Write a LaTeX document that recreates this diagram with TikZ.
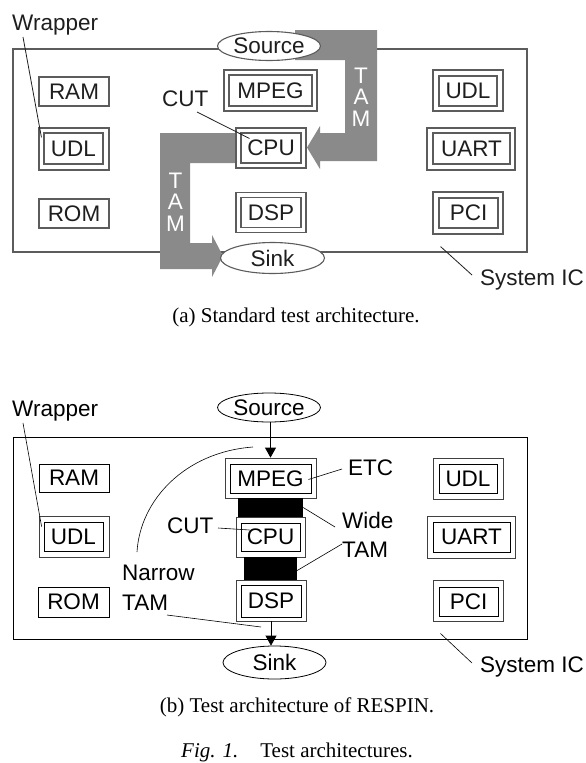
\documentclass[tikz,border=0pt]{standalone}
\usepackage{fontspec}
\setmainfont{Liberation Sans}
\newfontfamily\capfont{Liberation Serif}
\usetikzlibrary{shapes.geometric,arrows.meta}

\definecolor{inkA}{HTML}{1E1E1E}
\definecolor{lineA}{HTML}{5C5C5C}
\definecolor{tamgrey}{HTML}{8A8A8A}
\definecolor{wrapB}{HTML}{404040}

\tikzset{
  sz/.style 2 args={minimum width=#1, minimum height=#2},
  txt/.style={font=\fontsize{22.5}{27}\selectfont},
  lbl/.style={txt, inner sep=0pt, anchor=base west},
  % standard architecture (soft grey print)
  chipA/.style={draw=lineA, line width=1.2pt, inner sep=0pt},
  outerA/.style={draw=lineA, line width=1.1pt, inner sep=0pt, fill=white},
  innerA/.style={draw=lineA, line width=1.1pt, inner sep=0pt, txt, text=inkA},
  ovalA/.style={ellipse, draw=lineA, line width=1.1pt, fill=white, inner sep=0pt, txt, text=inkA},
  leadA/.style={draw=inkA, line width=0.8pt},
  tamtxt/.style={text=white, align=center, font=\fontsize{22.5}{21.5}\selectfont, inner sep=0pt},
  % RESPIN architecture (crisp black print)
  chipB/.style={draw=black, line width=0.9pt, inner sep=0pt},
  outerB/.style={draw=wrapB, line width=0.8pt, inner sep=0pt, fill=white},
  innerB/.style={draw=black, line width=0.9pt, inner sep=0pt, txt},
  ovalB/.style={ellipse, draw=black, line width=0.8pt, fill=white, inner sep=0pt, txt},
  leadB/.style={draw=black, line width=0.6pt},
  arrB/.style={draw=black, line width=0.8pt, -{Triangle[length=10pt,width=11pt]}},
  figtext/.style={font=\capfont\fontsize{21}{25}\selectfont, inner sep=0pt, anchor=base},
}

\begin{document}
\begin{tikzpicture}[x=1pt,y=-1pt]
\useasboundingbox (0,0) rectangle (586,763);

% ===================== (a) standard test architecture =====================
\node[chipA, sz={514}{203}] (sysA) at (270,150.5) {};

% TAM bands
\fill[tamgrey] (295,30) -- (377,30) -- (377,161) -- (320,161) -- (320,169)
  -- (307,147.5) -- (320,126) -- (320,133) -- (345,133) -- (345,60) -- (295,60) -- cycle;
\fill[tamgrey] (160,133) -- (236,133) -- (236,163) -- (190,163) -- (190,243)
  -- (212,243) -- (212,235) -- (223,256) -- (212,277) -- (212,269) -- (160,269) -- cycle;
\node[tamtxt] (tamA1) at (361,97) {T\\A\\M};
\node[tamtxt] (tamA2) at (175.5,202) {T\\A\\M};

\node[ovalA, sz={103}{29}] (srcA) at (269,46) {Source};
\node[ovalA, sz={104}{31}] (sinkA) at (272.5,258) {Sink};

% cores
\node[innerA, sz={70}{29}] (ramA) at (74,91.5) {RAM};
\node[outerA, sz={70}{42}] (udlAo) at (74,149) {};
\node[innerA, sz={59}{31}] (udlAi) at (73.5,148.5) {UDL};
\node[innerA, sz={70}{29}] (romA) at (74,213.5) {ROM};

\node[outerA, sz={93}{41}] (mpegAo) at (270.5,90.5) {};
\node[innerA, sz={83}{31}] (mpegAi) at (270.5,90.5) {MPEG};
\node[outerA, sz={70}{40}] (cpuAo) at (271,148) {};
\node[innerA, sz={60}{30}] (cpuAi) at (271,148) {CPU};
\node[outerA, sz={70}{40}] (dspAo) at (271,212.5) {};
\node[innerA, sz={60}{30}] (dspAi) at (271,212.5) {DSP};

\node[outerA, sz={70}{41}] (udlRAo) at (468,90.5) {};
\node[innerA, sz={58}{30}] (udlRAi) at (468,91) {UDL};
\node[outerA, sz={88}{42}] (uartAo) at (471,149) {};
\node[innerA, sz={77}{31}] (uartAi) at (471.5,148.5) {UART};
\node[outerA, sz={70}{42}] (pciAo) at (468,213) {};
\node[innerA, sz={59}{30}] (pciAi) at (468.5,213) {PCI};

% labels and leaders
\node[lbl, text=inkA] (wrapA) at (12,30) {Wrapper};
\draw[leadA] ([xshift=11pt,yshift=-7pt]wrapA.base west) -- ([xshift=3pt,yshift=-10pt]udlAo.north west);
\node[lbl, text=inkA] (cutA) at (162,106) {CUT};
\draw[leadA] ([xshift=35pt,yshift=-6pt]cutA.base west) -- ([xshift=9pt,yshift=-6pt]cpuAi.north west);
\node[lbl, text=inkA] (sysicA) at (480,285) {System IC};
\draw[leadA] ([xshift=-8pt,yshift=10pt]sysicA.base west) -- ([xshift=-87pt,yshift=6pt]sysA.south east);

\node[figtext] (capA) at (296,322) {(a) Standard test architecture.};

% ===================== (b) test architecture of RESPIN =====================
\node[chipB, sz={514}{202}] (sysB) at (270,538) {};

\node[ovalB, sz={103}{29}] (srcB) at (269,407.5) {Source};
\node[ovalB, sz={103}{33}] (sinkB) at (274.5,662.5) {Sink};

\node[innerB, sz={70}{28}] (ramB) at (74,478) {RAM};
\node[outerB, sz={70}{41}] (udlBo) at (74,536.5) {};
\node[innerB, sz={59}{29}] (udlBi) at (73.5,536.5) {UDL};
\node[innerB, sz={71}{30}] (romB) at (73.5,602) {ROM};

\node[outerB, sz={91}{40}] (mpegBo) at (270.5,478) {};
\node[innerB, sz={81}{29}] (mpegBi) at (270.5,478.5) {MPEG};
\node[fill=black, inner sep=0pt, sz={65}{19}] (barB1) at (270.5,507.5) {};
\node[outerB, sz={69}{40}] (cpuBo) at (270.5,537) {};
\node[innerB, sz={59}{28}] (cpuBi) at (270.5,537) {CPU};
\node[fill=black, inner sep=0pt, sz={53}{23}] (barB2) at (270.5,568.5) {};
\node[outerB, sz={70}{41}] (dspBo) at (271,600.5) {};
\node[innerB, sz={60}{32}] (dspBi) at (271,601) {DSP};

\node[outerB, sz={70}{41}] (udlRBo) at (468,478.5) {};
\node[innerB, sz={58}{29}] (udlRBi) at (468,478.5) {UDL};
\node[outerB, sz={88}{42}] (uartBo) at (471,537) {};
\node[innerB, sz={77}{30}] (uartBi) at (471.5,537) {UART};
\node[outerB, sz={70}{41}] (pciBo) at (468,600.5) {};
\node[innerB, sz={59}{29}] (pciBi) at (468.5,601.5) {PCI};

% TAM flow: source -> MPEG, DSP -> sink
\draw[arrB] (mpegBo.north |- srcB.south) -- (mpegBo.north);
\draw[arrB] (dspBo.south) -- (dspBo.south |- sinkB.north);

% labels and leaders
\node[lbl] (wrapB) at (12,416) {Wrapper};
\draw[leadB] ([xshift=11pt,yshift=-7pt]wrapB.base west) -- ([xshift=3pt,yshift=-11pt]udlBo.north west);
\node[lbl] (cutB) at (167,533) {CUT};
\draw[leadB] ([xshift=51pt,yshift=5pt]cutB.base west) -- ([xshift=9pt,yshift=7pt]cpuBi.west);
\node[lbl] (etcB) at (348,475) {ETC};
\draw[leadB] ([xshift=-6pt,yshift=6pt]etcB.base west) -- ([xshift=-3pt,yshift=-1pt]mpegBi.east);
\node[lbl] (wideB) at (342,528) {Wide};
\draw[leadB] ([xshift=-7pt,yshift=1pt]wideB.base west) -- (barB1.east);
\node[lbl] (wtamB) at (342,557) {TAM};
\draw[leadB] ([yshift=13pt]wtamB.base west) -- ([yshift=-2pt]barB2.east);

\node[lbl] (narrowB) at (122,580) {Narrow};
\node[lbl] (ntamB) at (122,610) {TAM};
\coordinate (narrowTop) at (253,447);
\coordinate (narrowBot) at (261,627);
\draw[leadB] ([xshift=15pt,yshift=28pt]narrowB.base west) .. controls (140,500) and (185,452) .. (narrowTop);
\draw[leadB] ([xshift=45pt,yshift=-5pt]ntamB.base west) -- (narrowBot);

\node[lbl] (sysicB) at (480,672) {System IC};
\draw[leadB] ([xshift=-8pt,yshift=9pt]sysicB.base west) -- ([xshift=-87pt,yshift=6pt]sysB.south east);

\node[figtext] (capB) at (297,712) {(b) Test architecture of RESPIN.};
\node[figtext] (figcap) at (297,757) {\textit{Fig. 1.}\hspace{22pt}Test architectures.};
\end{tikzpicture}
\end{document}
